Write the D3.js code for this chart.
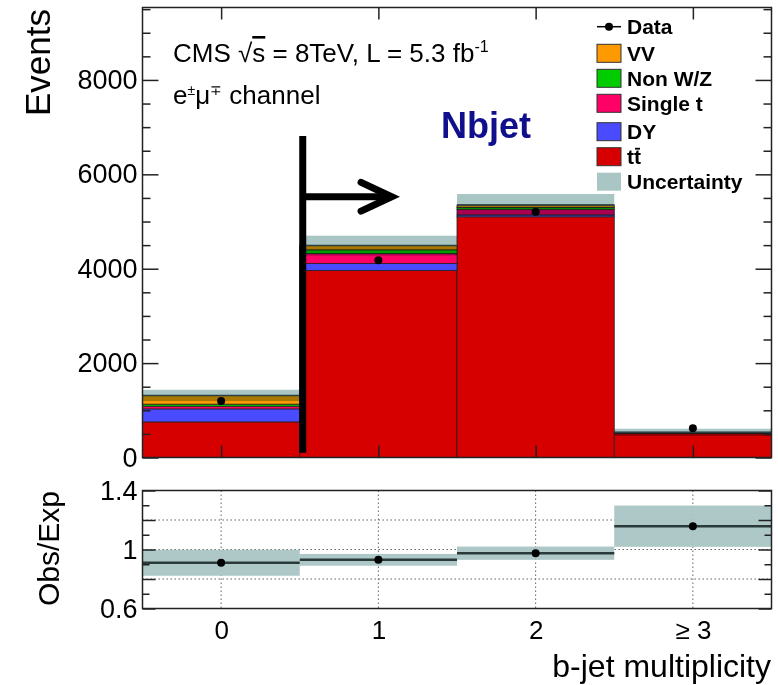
<!DOCTYPE html>
<html>
<head>
<meta charset="utf-8">
<script src="https://cdn.jsdelivr.net/npm/d3@7"></script>
<style>
  body { margin: 0; background: #fff; }
  svg text { font-family: "Liberation Sans", Arial, Helvetica, sans-serif; }
</style>
</head>
<body>
<div id="svg"></div>
<script>
const width = 778,
      height = 685;

// b-jet multiplicity bins
const bins = ["0", "1", "2", "≥ 3"];

// stacked expectations (events), bottom to top
const ttbar   = [755, 3965, 5100, 510];
const dy      = [275, 145, 40, 5];
const singleT = [55, 210, 120, 12];
const nonWZ   = [45, 80, 40, 3];
const vv      = [185, 90, 50, 4];
const uncert  = [120, 210, 233, 75];

const dataObs = [1198, 4178, 5208, 618];

// ratio panel
const ratio    = [0.91, 0.93, 0.975, 1.158];
const ratioErr = [0.088, 0.04, 0.045, 0.14];

const yTicks = [0, 2000, 4000, 6000, 8000];
const ratioTicks = [0.6, 0.8, 1.0, 1.2, 1.4];

const components = [
  {name: "tt", values: ttbar, color: "#d60000"},
  {name: "DY", values: dy, color: "#4a4aff"},
  {name: "Single t", values: singleT, color: "#ff0066"},
  {name: "Non W/Z", values: nonWZ, color: "#00cc00"},
  {name: "VV", values: vv, color: "#ff9900"}
];
const uncColor = "#a9c5c4";

const svg = d3.select("#svg")
  .append("svg")
    .attr("width", width)
    .attr("height", height);

const left = 142.5, right = 771.5;
const mainTop = 7.5, mainBottom = 457.5;
const ratTop = 490.5, ratBottom = 608.5;

const x = d3.scaleLinear()
    .domain([-0.5, 3.5])
    .range([left, right]);

const y = d3.scaleLinear()
    .domain([0, 9535])
    .range([mainBottom, mainTop]);

const yr = d3.scaleLinear()
    .domain([0.6, 1.4])
    .range([ratBottom, ratTop]);

// stacked table
const table = bins.map((b, i) => {
  const row = {bin: i};
  components.forEach(c => row[c.name] = c.values[i]);
  return row;
});
const stack = d3.stack().keys(components.map(c => c.name))(table);
const totals = bins.map((b, i) => d3.sum(components, c => c.values[i]));

const main = svg.append("g");

main.selectAll("g.layer")
  .data(stack)
  .enter()
  .append("g")
    .attr("class", "layer")
    .attr("fill", (d, i) => components[i].color)
  .selectAll("rect")
  .data(d => d)
  .enter()
  .append("rect")
    .attr("x", d => x(d.data.bin - 0.5))
    .attr("width", d => x(d.data.bin + 0.5) - x(d.data.bin - 0.5))
    .attr("y", d => y(d[1]))
    .attr("height", d => y(d[0]) - y(d[1]))
    .attr("stroke", "#222")
    .attr("stroke-width", 0.8);

// uncertainty band
main.append("g")
  .selectAll("rect")
  .data(totals)
  .enter()
  .append("rect")
    .attr("x", (d, i) => x(i - 0.5))
    .attr("width", (d, i) => x(i + 0.5) - x(i - 0.5))
    .attr("y", (d, i) => y(d + uncert[i]))
    .attr("height", (d, i) => y(d - uncert[i]) - y(d + uncert[i]))
    .attr("fill", uncColor)
    .style("mix-blend-mode", "multiply");

// total line
main.append("g")
  .selectAll("line")
  .data(totals)
  .enter()
  .append("line")
    .attr("x1", (d, i) => x(i - 0.5))
    .attr("x2", (d, i) => x(i + 0.5))
    .attr("y1", d => y(d))
    .attr("y2", d => y(d))
    .attr("stroke", "#2a4040")
    .attr("stroke-width", 1.5);

// data points
main.append("g")
  .selectAll("circle")
  .data(dataObs)
  .enter()
  .append("circle")
    .attr("cx", (d, i) => x(i))
    .attr("cy", d => y(d))
    .attr("r", 4)
    .attr("fill", "#000");

// cut line and arrow
main.append("line")
    .attr("x1", x(0.519)).attr("x2", x(0.519))
    .attr("y1", y(6810)).attr("y2", y(100))
    .attr("stroke", "#000")
    .attr("stroke-width", 7);

main.append("path")
    .attr("d", `M${x(0.519)},${y(5525)}H${x(1.085)}`)
    .attr("stroke", "#000")
    .attr("stroke-width", 7)
    .attr("fill", "none");

main.append("path")
    .attr("d", `M${x(0.89)},${y(5830)}L${x(1.085)},${y(5525)}L${x(0.89)},${y(5220)}`)
    .attr("stroke", "#000")
    .attr("stroke-width", 7)
    .attr("stroke-linecap", "round")
    .attr("stroke-linejoin", "miter")
    .attr("fill", "none");

// frame
main.append("rect")
    .attr("x", left).attr("y", mainTop)
    .attr("width", right - left).attr("height", mainBottom - mainTop)
    .attr("fill", "none")
    .attr("stroke", "#222")
    .attr("stroke-width", 1.5);

// axes
const minorY = d3.range(0, 9501, 500).filter(v => v % 2000 !== 0);

function styleAxis(g) {
  g.select(".domain").remove();
  g.selectAll(".tick line").attr("stroke", "#222").attr("stroke-width", 1.5);
  g.selectAll(".tick text").attr("fill", "#000");
}

svg.append("g")
    .attr("transform", `translate(${left},0)`)
    .call(d3.axisLeft(y).tickValues(yTicks).tickSize(-16).tickPadding(5).tickFormat(d => d))
    .call(styleAxis)
    .selectAll("text").style("font-size", "27px");

svg.append("g")
    .attr("transform", `translate(${left},0)`)
    .call(d3.axisLeft(y).tickValues(minorY).tickSize(-8).tickFormat(""))
    .call(styleAxis);

svg.append("g")
    .attr("transform", `translate(${right},0)`)
    .call(d3.axisRight(y).tickValues(yTicks).tickSize(-16).tickFormat(""))
    .call(styleAxis);

svg.append("g")
    .attr("transform", `translate(${right},0)`)
    .call(d3.axisRight(y).tickValues(minorY).tickSize(-8).tickFormat(""))
    .call(styleAxis);

svg.append("g")
    .attr("transform", `translate(0,${mainBottom})`)
    .call(d3.axisBottom(x).tickValues([0, 1, 2, 3]).tickSize(-12).tickFormat(""))
    .call(styleAxis);

svg.append("g")
    .attr("transform", `translate(0,${mainTop})`)
    .call(d3.axisTop(x).tickValues([0, 1, 2, 3]).tickSize(-12).tickFormat(""))
    .call(styleAxis);

// texts in main panel
const cms = svg.append("text")
    .attr("x", 173)
    .attr("y", 62)
    .style("font-size", "26px")
    .attr("fill", "#000");
cms.append("tspan").text("CMS  √");
cms.append("tspan").style("text-decoration", "overline").text("s");
cms.append("tspan").text(" = 8TeV, L = 5.3 fb");
cms.append("tspan").attr("dy", -10).style("font-size", "16px").text("-1");

const chan = svg.append("text")
    .attr("x", 173)
    .attr("y", 104)
    .style("font-size", "26px")
    .attr("fill", "#000");
chan.append("tspan").text("e");
chan.append("tspan").attr("dy", -9).style("font-size", "14px").text("±");
chan.append("tspan").attr("dy", 9).text("μ");
chan.append("tspan").attr("dy", -9).style("font-size", "14px").text("∓");
chan.append("tspan").attr("dy", 9).text(" channel");

svg.append("text")
    .attr("x", 441)
    .attr("y", 138)
    .style("font-size", "36px")
    .style("font-weight", "bold")
    .attr("fill", "#10108c")
    .text("Nbjet");

// legend
const legendItems = [
  {label: "Data", type: "data"},
  {label: "VV", color: "#ff9900"},
  {label: "Non W/Z", color: "#00cc00"},
  {label: "Single t", color: "#ff0066"},
  {label: "DY", color: "#4a4aff"},
  {label: "tt", color: "#d60000", bar: true},
  {label: "Uncertainty", color: uncColor, unc: true}
];
const legendY = [26.7, 53.3, 78.3, 103.3, 131.7, 156.7, 181.7];

const legend = svg.append("g")
  .selectAll("g")
  .data(legendItems)
  .enter()
  .append("g")
    .attr("transform", (d, i) => `translate(597,${legendY[i]})`);

legend.filter(d => d.type === "data")
  .append("line")
    .attr("x1", 0).attr("x2", 24)
    .attr("stroke", "#000").attr("stroke-width", 1.5);
legend.filter(d => d.type === "data")
  .append("circle")
    .attr("cx", 12).attr("r", 4).attr("fill", "#000");

legend.filter(d => d.type !== "data")
  .append("rect")
    .attr("x", 0).attr("y", -9)
    .attr("width", 24).attr("height", 18)
    .attr("fill", d => d.color)
    .attr("stroke", d => d.unc ? "none" : "#333")
    .attr("stroke-width", 1);

const legText = legend.append("text")
    .attr("x", 30)
    .attr("dy", "0.36em")
    .style("font-size", "21px")
    .style("font-weight", "bold")
    .attr("fill", "#000")
    .text(d => d.label);

// bar over the second t of tt
legend.filter(d => d.bar).each(function() {
  const g = d3.select(this);
  const t = g.select("text").node();
  const x0 = 30 + t.getSubStringLength(0, 1);
  const x1 = 30 + t.getSubStringLength(0, 2);
  g.append("line")
      .attr("x1", x0 + 1).attr("x2", x1 - 1)
      .attr("y1", -8).attr("y2", -8)
      .attr("stroke", "#000")
      .attr("stroke-width", 1.8);
});

svg.append("text")
    .attr("transform", "translate(50,9) rotate(-90)")
    .attr("text-anchor", "end")
    .style("font-size", "35px")
    .attr("fill", "#000")
    .text("Events");

// ratio panel
const rat = svg.append("g");

// grid
rat.append("g")
  .selectAll("line")
  .data([0.8, 1.0, 1.2])
  .enter()
  .append("line")
    .attr("x1", left).attr("x2", right)
    .attr("y1", d => yr(d)).attr("y2", d => yr(d))
    .attr("stroke", "#666")
    .attr("stroke-width", 1)
    .attr("stroke-dasharray", "1.5,2.5");

rat.append("g")
  .selectAll("line")
  .data([0, 1, 2, 3])
  .enter()
  .append("line")
    .attr("x1", d => x(d)).attr("x2", d => x(d))
    .attr("y1", ratTop).attr("y2", ratBottom)
    .attr("stroke", "#666")
    .attr("stroke-width", 1)
    .attr("stroke-dasharray", "1.5,2.5");

rat.append("g")
  .selectAll("rect")
  .data(ratio)
  .enter()
  .append("rect")
    .attr("x", (d, i) => x(i - 0.5))
    .attr("width", (d, i) => x(i + 0.5) - x(i - 0.5))
    .attr("y", (d, i) => yr(d + ratioErr[i]))
    .attr("height", (d, i) => yr(d - ratioErr[i]) - yr(d + ratioErr[i]))
    .attr("fill", uncColor)
    .attr("fill-opacity", 0.95);

rat.append("g")
  .selectAll("line")
  .data(ratio)
  .enter()
  .append("line")
    .attr("x1", (d, i) => x(i - 0.5))
    .attr("x2", (d, i) => x(i + 0.5))
    .attr("y1", d => yr(d))
    .attr("y2", d => yr(d))
    .attr("stroke", "#2a3a3a")
    .attr("stroke-width", 2.5);

rat.append("g")
  .selectAll("circle")
  .data(ratio)
  .enter()
  .append("circle")
    .attr("cx", (d, i) => x(i))
    .attr("cy", d => yr(d))
    .attr("r", 4)
    .attr("fill", "#000");

rat.append("rect")
    .attr("x", left).attr("y", ratTop)
    .attr("width", right - left).attr("height", ratBottom - ratTop)
    .attr("fill", "none")
    .attr("stroke", "#222")
    .attr("stroke-width", 1.5);

const minorR = [0.7, 0.9, 1.1, 1.3];

svg.append("g")
    .attr("transform", `translate(${left},0)`)
    .call(d3.axisLeft(yr).tickValues(ratioTicks).tickSize(-13).tickPadding(5)
      .tickFormat(d => (Math.abs(d - 0.8) < 1e-9 || Math.abs(d - 1.2) < 1e-9) ? "" : d3.format("")(+d.toFixed(1))))
    .call(styleAxis)
    .selectAll("text").style("font-size", "27px");

svg.append("g")
    .attr("transform", `translate(${left},0)`)
    .call(d3.axisLeft(yr).tickValues(minorR).tickSize(-7).tickFormat(""))
    .call(styleAxis);

svg.append("g")
    .attr("transform", `translate(${right},0)`)
    .call(d3.axisRight(yr).tickValues(ratioTicks).tickSize(-13).tickFormat(""))
    .call(styleAxis);

svg.append("g")
    .attr("transform", `translate(${right},0)`)
    .call(d3.axisRight(yr).tickValues(minorR).tickSize(-7).tickFormat(""))
    .call(styleAxis);

svg.append("g")
    .attr("transform", `translate(0,${ratBottom})`)
    .call(d3.axisBottom(x).tickValues([0, 1, 2, 3]).tickSize(0).tickPadding(12).tickFormat(d => bins[d]))
    .call(styleAxis)
    .selectAll("text").style("font-size", "26px");

svg.append("text")
    .attr("transform", "translate(59,491) rotate(-90)")
    .attr("text-anchor", "end")
    .style("font-size", "30px")
    .attr("fill", "#000")
    .text("Obs/Exp");

svg.append("text")
    .attr("x", 771)
    .attr("y", 677)
    .attr("text-anchor", "end")
    .style("font-size", "32px")
    .attr("fill", "#000")
    .text("b-jet multiplicity");
</script>
</body>
</html>
